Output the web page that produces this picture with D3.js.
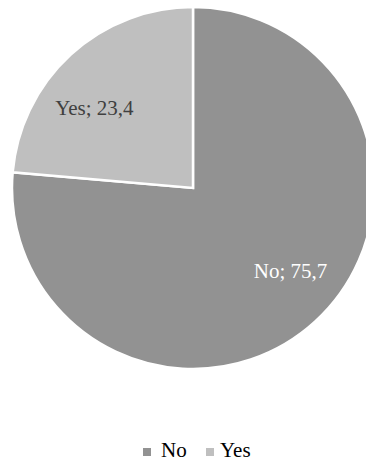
<!DOCTYPE html>
<html>
<head>
<meta charset="utf-8">
<script src="https://cdn.jsdelivr.net/npm/d3@7"></script>
<style>
  html, body { margin: 0; padding: 0; background: #fff; }
  svg { display: block; }
  text { font-family: "Palatino Linotype", "Book Antiqua", Palatino, "Liberation Serif", serif; }
</style>
</head>
<body>
<svg id="chart" width="366" height="463"></svg>
<script>
// Survey answers (percent)
const categories = ["No", "Yes"];
const values = [75.7, 23.4];
const colors = ["#929292", "#bfbfbf"];
const labelColors = ["#ffffff", "#404040"];

const cx = 193, cy = 188, radius = 181;

const svg = d3.select("#chart");
const g = svg.append("g").attr("transform", `translate(${cx},${cy})`);

const data = categories.map((c, i) => ({ name: c, value: values[i], i }));

const pie = d3.pie().sort(null).value(d => d.value);
const arcs = pie(data);

const arc = d3.arc().innerRadius(0).outerRadius(radius);
const labelArc = d3.arc().innerRadius(radius * 0.7).outerRadius(radius * 0.7);
// small nudges so the labels sit where the slice has most room
const labelNudge = [[12, -11], [-13, 13]];

g.selectAll("path.slice")
  .data(arcs)
  .join("path")
  .attr("class", "slice")
  .attr("d", arc)
  .attr("fill", d => colors[d.data.i])
  .attr("stroke", "#ffffff")
  .attr("stroke-width", 2.5)
  .attr("stroke-linejoin", "miter");

g.selectAll("text.label")
  .data(arcs)
  .join("text")
  .attr("class", "label")
  .attr("transform", d => {
    const [x, y] = labelArc.centroid(d);
    const [nx, ny] = labelNudge[d.data.i];
    return `translate(${x + nx},${y + ny})`;
  })
  .attr("text-anchor", "middle")
  .attr("dy", "0.35em")
  .attr("font-size", 21)
  .attr("fill", d => labelColors[d.data.i])
  .text(d => `${d.data.name}; ${String(d.data.value).replace(".", ",")}`);

// Legend
const legend = svg.append("g").attr("transform", "translate(0,457)");
const items = [
  { x: 143, tx: 161, i: 0 },
  { x: 206, tx: 220, i: 1 }
];
items.forEach(it => {
  legend.append("rect")
    .attr("x", it.x)
    .attr("y", -9)
    .attr("width", 8)
    .attr("height", 8)
    .attr("fill", colors[it.i]);
  legend.append("text")
    .attr("x", it.tx)
    .attr("y", 0)
    .attr("font-size", 21)
    .attr("fill", "#000")
    .text(categories[it.i]);
});
</script>
</body>
</html>
